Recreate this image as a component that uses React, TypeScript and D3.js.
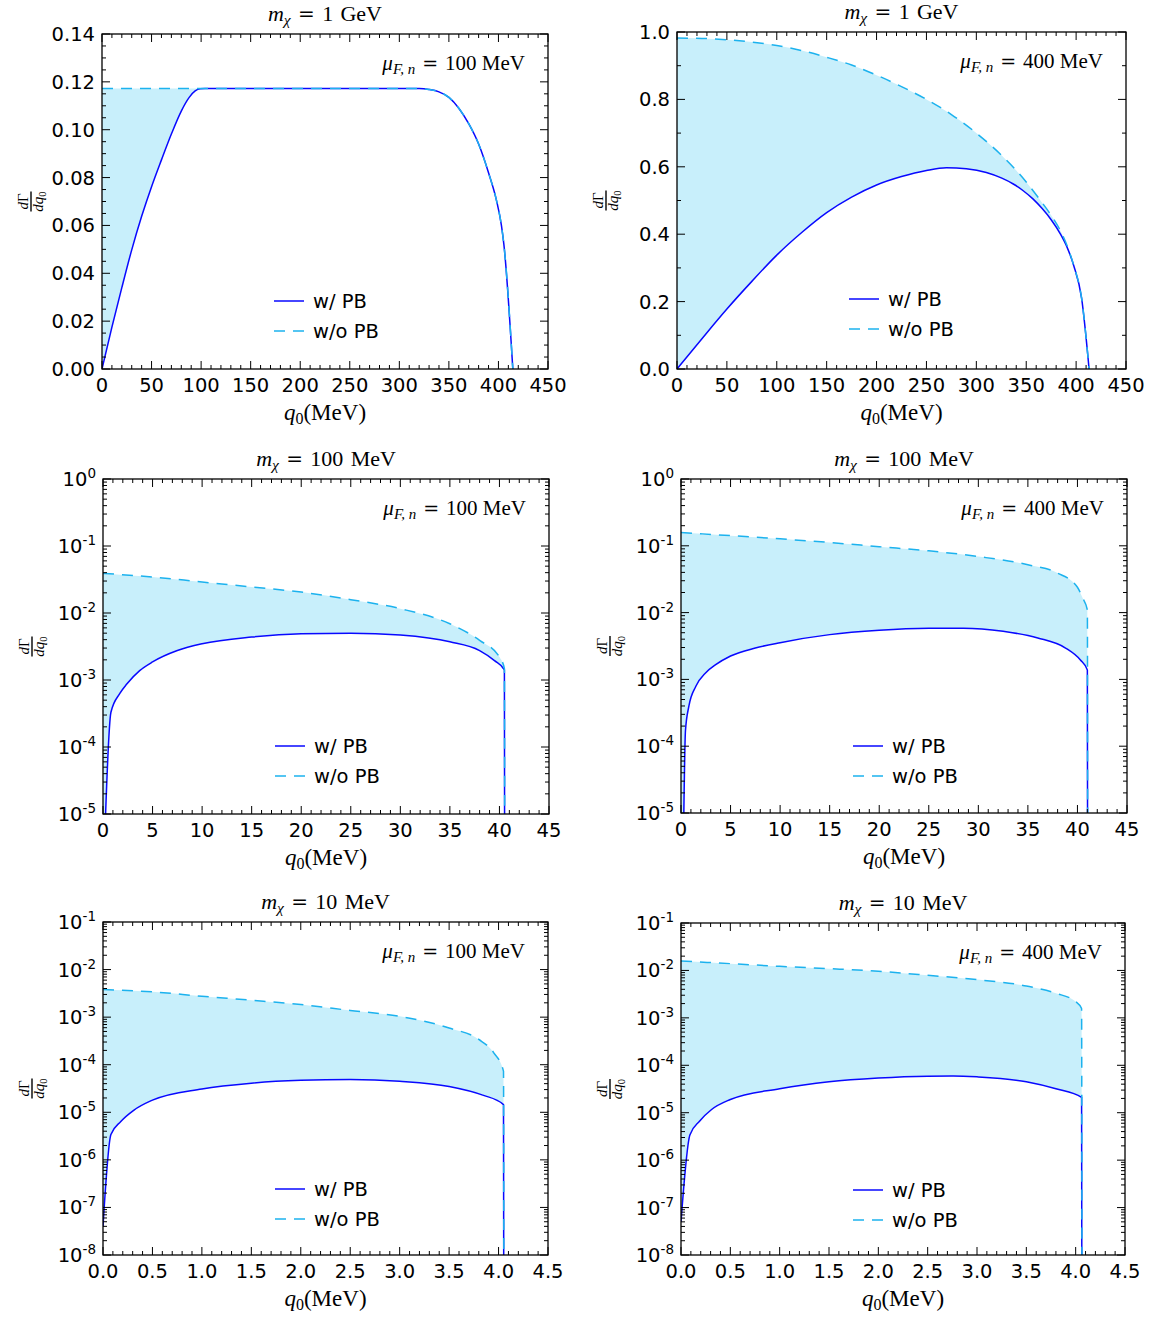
import React from 'react';
import * as d3 from 'd3';

type Pt = [number, number];

// ---------------- data ----------------
const massTitles = ['1 GeV', '1 GeV', '100 MeV', '100 MeV', '10 MeV', '10 MeV'];
const fermiTitles = ['100 MeV', '400 MeV', '100 MeV', '400 MeV', '100 MeV', '400 MeV'];
const legendLabels = ['w/ PB', 'w/o PB'];

const xTicksRow1 = [0, 50, 100, 150, 200, 250, 300, 350, 400, 450];
const xTicksRow2 = [0, 5, 10, 15, 20, 25, 30, 35, 40, 45];
const xTicksRow3 = [0, 0.5, 1, 1.5, 2, 2.5, 3, 3.5, 4, 4.5];
const yTicksP1 = [0, 0.02, 0.04, 0.06, 0.08, 0.1, 0.12, 0.14];
const yTicksP2 = [0, 0.2, 0.4, 0.6, 0.8, 1.0];
const yExpRow2 = [0, -1, -2, -3, -4, -5];
const yExpRow3 = [-1, -2, -3, -4, -5, -6, -7, -8];

// m_chi = 1 GeV, mu = 100 MeV
const p1With: Pt[] = [
  [0, 0], [10, 0.0175], [20, 0.034], [30, 0.0498], [40, 0.0638], [50, 0.0762], [60, 0.0874],
  [70, 0.0982], [80, 0.1078], [88, 0.1135], [94, 0.1162], [99, 0.1171], [104, 0.1172],
  [320, 0.1172], [330, 0.1168], [340, 0.1158], [350, 0.1135], [360, 0.109], [370, 0.1025],
  [380, 0.094], [390, 0.082], [398, 0.0705], [403, 0.06], [405.5, 0.052], [414.5, 0],
];
const p1Without: Pt[] = [
  [0, 0.1172], [104, 0.1172], [320, 0.1172], [330, 0.1168], [340, 0.1158], [350, 0.1135],
  [360, 0.109], [370, 0.1025], [380, 0.094], [390, 0.082], [398, 0.0705], [403, 0.06],
  [405.5, 0.052], [414.5, 0],
];
// m_chi = 1 GeV, mu = 400 MeV
const p2With: Pt[] = [
  [0, 0], [25, 0.09], [50, 0.178], [75, 0.26], [100, 0.338], [125, 0.405], [150, 0.464],
  [175, 0.51], [200, 0.546], [225, 0.571], [250, 0.589], [270, 0.597], [290, 0.594],
  [310, 0.583], [325, 0.567], [337, 0.549], [347, 0.529], [357, 0.504], [366, 0.476],
  [375, 0.443], [384, 0.402], [391, 0.361], [397.5, 0.308], [405.5, 0.21], [413, 0],
];
const p2Without: Pt[] = [
  [0, 0.982], [25, 0.981], [50, 0.977], [75, 0.97], [100, 0.96], [125, 0.945], [150, 0.925],
  [175, 0.902], [200, 0.872], [225, 0.838], [250, 0.8], [275, 0.755], [300, 0.7], [325, 0.635],
  [350, 0.555], [365, 0.497], [375, 0.456], [384, 0.412], [391, 0.366], [397.5, 0.308],
  [405.5, 0.21], [413, 0],
];
// m_chi = 100 MeV, mu = 100 MeV
const p3With: Pt[] = [
  [0, 7e-7], [0.8, 3.3e-4], [1.7, 6.3e-4], [2.4, 8.7e-4], [3.7, 1.38e-3], [5, 1.86e-3],
  [7.5, 2.75e-3], [10, 3.47e-3], [15, 4.37e-3], [20, 4.9e-3], [25, 5.0e-3], [30, 4.68e-3],
  [35, 3.72e-3], [38, 2.75e-3], [39.5, 1.95e-3], [40.5, 1.42e-3], [40.55, 1e-9],
];
const p3Without: Pt[] = [
  [0, 0.039], [5, 0.0345], [10, 0.029], [15, 0.0245], [20, 0.0205], [25, 0.0158], [30, 0.0116],
  [35, 0.0069], [38, 0.0039], [40, 0.0022], [40.5, 0.00148], [40.55, 1e-9],
];
// m_chi = 100 MeV, mu = 400 MeV
const p4With: Pt[] = [
  [0, 1e-9], [0.2, 1e-6], [0.45, 1.7e-4], [0.8, 4.0e-4], [1.5, 7.9e-4], [2.5, 1.26e-3],
  [3.5, 1.66e-3], [5, 2.24e-3], [7.5, 2.95e-3], [10, 3.55e-3], [15, 4.68e-3], [20, 5.43e-3],
  [25, 5.82e-3], [28.5, 5.85e-3], [32.5, 5.25e-3], [36, 4.17e-3], [38.8, 2.95e-3],
  [40.3, 1.95e-3], [41, 1.38e-3], [41.05, 1e-9],
];
const p4Without: Pt[] = [
  [0, 0.158], [5, 0.142], [10, 0.127], [15, 0.112], [20, 0.097], [25, 0.084], [30, 0.069],
  [35, 0.052], [38, 0.039], [40, 0.024], [40.5, 0.0168], [41, 0.011], [41.05, 1e-9],
];
// m_chi = 10 MeV, mu = 100 MeV
const p5With: Pt[] = [
  [0, 4e-8], [0.08, 3.4e-6], [0.18, 6.4e-6], [0.31, 1.1e-5], [0.5, 1.8e-5], [1.0, 3.1e-5],
  [1.5, 4.1e-5], [2.0, 4.7e-5], [2.5, 4.9e-5], [3.0, 4.5e-5], [3.5, 3.5e-5], [3.84, 2.3e-5],
  [4.05, 1.45e-5], [4.055, 1e-12],
];
const p5Without: Pt[] = [
  [0, 3.8e-3], [0.5, 3.4e-3], [1.0, 2.75e-3], [1.5, 2.27e-3], [2.0, 1.84e-3], [2.5, 1.38e-3],
  [3.0, 1.04e-3], [3.5, 5.9e-4], [3.8, 3.4e-4], [3.95, 1.8e-4], [4.05, 7.3e-5], [4.055, 1e-12],
];
// m_chi = 10 MeV, mu = 400 MeV
const p6With: Pt[] = [
  [0, 5e-8], [0.09, 3.4e-6], [0.19, 6.7e-6], [0.31, 1.17e-5], [0.5, 1.9e-5], [1.0, 3.2e-5],
  [1.5, 4.5e-5], [2.0, 5.4e-5], [2.5, 5.9e-5], [2.76, 5.95e-5], [3.0, 5.7e-5], [3.5, 4.5e-5],
  [3.8, 3.2e-5], [4.06, 2.1e-5], [4.065, 1e-12],
];
const p6Without: Pt[] = [
  [0, 1.58e-2], [0.5, 1.39e-2], [1.0, 1.22e-2], [1.5, 1.09e-2], [2.0, 9.6e-3], [2.5, 7.9e-3],
  [3.0, 6.4e-3], [3.5, 4.7e-3], [3.8, 3.3e-3], [4.0, 2.2e-3], [4.06, 1.58e-3], [4.065, 1e-12],
];

// ---------------- layout / style ----------------
const W = 1153;
const H = 1317;
const LAYOUT = [
  { left: 102, right: 548, top: 34, bottom: 369 },
  { left: 677, right: 1126, top: 32, bottom: 369 },
  { left: 103, right: 549, top: 479, bottom: 814 },
  { left: 681, right: 1127, top: 479, bottom: 813 },
  { left: 103, right: 548, top: 922, bottom: 1255 },
  { left: 681, right: 1125, top: 923, bottom: 1255 },
];

const SOLID = '#0808ff';
const DASHED = '#1cb2ee';
const FILL = '#c8effb';
const SANS = 'DejaVu Sans, sans-serif';
const SERIF = 'Liberation Serif, Times New Roman, serif';
const EQ_FONT = 'DejaVu Serif, serif';
const SP = '\u2004';

interface PanelSpec {
  log: boolean;
  xTicks: number[];
  xMinor: number;
  xFmt: (v: number) => string;
  yTicks?: number[];
  yMinor?: number;
  yFmt?: (v: number) => string;
  yExp?: number[];
  withPB: Pt[];
  withoutPB: Pt[];
}

const fInt = d3.format('d');
const f1 = d3.format('.1f');
const f2 = d3.format('.2f');

const PANELS: PanelSpec[] = [
  { log: false, xTicks: xTicksRow1, xMinor: 10, xFmt: fInt, yTicks: yTicksP1, yMinor: 0.005, yFmt: f2, withPB: p1With, withoutPB: p1Without },
  { log: false, xTicks: xTicksRow1, xMinor: 10, xFmt: fInt, yTicks: yTicksP2, yMinor: 0.1, yFmt: f1, withPB: p2With, withoutPB: p2Without },
  { log: true, xTicks: xTicksRow2, xMinor: 1, xFmt: fInt, yExp: yExpRow2, withPB: p3With, withoutPB: p3Without },
  { log: true, xTicks: xTicksRow2, xMinor: 1, xFmt: fInt, yExp: yExpRow2, withPB: p4With, withoutPB: p4Without },
  { log: true, xTicks: xTicksRow3, xMinor: 0.1, xFmt: f1, yExp: yExpRow3, withPB: p5With, withoutPB: p5Without },
  { log: true, xTicks: xTicksRow3, xMinor: 0.1, xFmt: f1, yExp: yExpRow3, withPB: p6With, withoutPB: p6Without },
];

function minorRange(lo: number, hi: number, step: number, majors: number[]) {
  const n = Math.round((hi - lo) / step);
  const out: number[] = [];
  for (let k = 0; k <= n; k++) {
    const v = lo + k * step;
    if (!majors.some((m) => Math.abs(m - v) < step * 1e-3)) out.push(v);
  }
  return out;
}

function Panel({ i }: { i: number }) {
  const L = LAYOUT[i];
  const P = PANELS[i];
  const xDom: [number, number] = [P.xTicks[0], P.xTicks[P.xTicks.length - 1]];
  const x = d3.scaleLinear().domain(xDom).range([L.left, L.right]);
  let y: any;
  let yMajor: number[];
  let yMinorVals: number[];
  if (P.log) {
    const exps = P.yExp as number[];
    const maxE = d3.max(exps) as number;
    const minE = d3.min(exps) as number;
    y = d3.scaleLog().domain([Math.pow(10, minE), Math.pow(10, maxE)]).range([L.bottom, L.top]);
    yMajor = exps.map((e) => Math.pow(10, e));
    yMinorVals = [];
    for (let e = minE; e < maxE; e++) for (let m = 2; m <= 9; m++) yMinorVals.push(m * Math.pow(10, e));
  } else {
    const yt = P.yTicks as number[];
    y = d3.scaleLinear().domain([yt[0], yt[yt.length - 1]]).range([L.bottom, L.top]);
    yMajor = yt;
    yMinorVals = minorRange(yt[0], yt[yt.length - 1], P.yMinor as number, yt);
  }
  const xMinorVals = minorRange(xDom[0], xDom[1], P.xMinor, P.xTicks);

  const line = d3.line<Pt>().x((d) => x(d[0])).y((d) => y(d[1])).curve(d3.curveMonotoneX);
  const areaUnder = d3.area<Pt>().x((d) => x(d[0])).y0(L.bottom).y1((d) => y(d[1])).curve(d3.curveMonotoneX);
  const areaAbove = d3.area<Pt>().x((d) => x(d[0])).y0(L.top - 5).y1((d) => y(d[1])).curve(d3.curveMonotoneX);

  const cx = (L.left + L.right) / 2;
  const cy = (L.top + L.bottom) / 2;
  const MAJ = 8;
  const MIN = 4;
  const tickColor = '#000';

  const ticks: React.ReactNode[] = [];
  const addX = (v: number, len: number, key: string) => {
    const px = x(v);
    ticks.push(<line key={key + 'b'} x1={px} x2={px} y1={L.bottom} y2={L.bottom - len} stroke={tickColor} strokeWidth={1} />);
    ticks.push(<line key={key + 't'} x1={px} x2={px} y1={L.top} y2={L.top + len} stroke={tickColor} strokeWidth={1} />);
  };
  const addY = (v: number, len: number, key: string) => {
    const py = y(v);
    ticks.push(<line key={key + 'l'} x1={L.left} x2={L.left + len} y1={py} y2={py} stroke={tickColor} strokeWidth={1} />);
    ticks.push(<line key={key + 'r'} x1={L.right} x2={L.right - len} y1={py} y2={py} stroke={tickColor} strokeWidth={1} />);
  };
  P.xTicks.forEach((v, k) => addX(v, MAJ, 'xM' + k));
  xMinorVals.forEach((v, k) => addX(v, MIN, 'xm' + k));
  yMajor.forEach((v, k) => addY(v, MAJ, 'yM' + k));
  yMinorVals.forEach((v, k) => addY(v, MIN, 'ym' + k));

  const legY = [L.top + 267, L.top + 297];
  const legX0 = L.left + 172;
  const legX1 = L.left + 202;
  const [mNum, mUnit] = massTitles[i].split(' ');
  const [fNum, fUnit] = fermiTitles[i].split(' ');

  return (
    <g>
      <defs>
        <clipPath id={`plot-${i}`}>
          <rect x={L.left} y={L.top} width={L.right - L.left} height={L.bottom - L.top} />
        </clipPath>
        <clipPath id={`above-${i}`}>
          <path d={areaAbove(P.withPB) || ''} />
        </clipPath>
      </defs>
      <g clipPath={`url(#plot-${i})`}>
        <path d={areaUnder(P.withoutPB) || ''} fill={FILL} stroke="none" clipPath={`url(#above-${i})`} />
        <path d={line(P.withPB) || ''} fill="none" stroke={SOLID} strokeWidth={1.5} />
        <path d={line(P.withoutPB) || ''} fill="none" stroke={DASHED} strokeWidth={1.5} strokeDasharray="11,8" />
      </g>
      {ticks}
      <rect x={L.left} y={L.top} width={L.right - L.left} height={L.bottom - L.top} fill="none" stroke="#000" strokeWidth={1.3} />

      {/* x tick labels */}
      {P.xTicks.map((v, k) => (
        <text key={'xl' + k} x={x(v)} y={L.bottom + 23} textAnchor="middle" fontFamily={SANS} fontSize={19.5} fill="#000">
          {P.xFmt(v)}
        </text>
      ))}
      {/* y tick labels */}
      {P.log
        ? (P.yExp as number[]).map((e, k) => (
            <text key={'yl' + k} x={L.left - 7} y={y(Math.pow(10, e)) + 7} textAnchor="end" fontFamily={SANS} fontSize={19.5} fill="#000">
              10<tspan dy={-8} fontSize={13.5}>{e === 0 ? '0' : '-' + Math.abs(e)}</tspan>
            </text>
          ))
        : yMajor.map((v, k) => (
            <text key={'yl' + k} x={L.left - 7} y={y(v) + 7} textAnchor="end" fontFamily={SANS} fontSize={19.5} fill="#000">
              {(P.yFmt as any)(v)}
            </text>
          ))}

      {/* title */}
      <text x={cx} y={L.top - 13} textAnchor="middle" fontFamily={SERIF} fontSize={22} fill="#000">
        <tspan fontStyle="italic">m</tspan>
        <tspan fontStyle="italic" fontSize={15.5} dy={4}>χ</tspan>
        <tspan dy={-4}>{SP}</tspan>
        <tspan fontFamily={EQ_FONT} fontSize={20}>=</tspan>
        <tspan>{SP + mNum + SP + mUnit}</tspan>
      </text>

      {/* mu annotation */}
      <text x={L.right - 23} y={L.top + 36} textAnchor="end" fontFamily={SERIF} fontSize={21} fill="#000">
        <tspan fontStyle="italic">μ</tspan>
        <tspan fontStyle="italic" fontSize={15} dy={4}>F, n</tspan>
        <tspan dy={-4}>{SP}</tspan>
        <tspan fontFamily={EQ_FONT} fontSize={19}>=</tspan>
        <tspan>{SP + fNum + ' ' + fUnit}</tspan>
      </text>

      {/* x label */}
      <text x={cx} y={L.bottom + 51} textAnchor="middle" fontFamily={SERIF} fontSize={23} fill="#000">
        <tspan fontStyle="italic">q</tspan>
        <tspan fontSize={16} dy={4}>0</tspan>
        <tspan dy={-4}>(MeV)</tspan>
      </text>

      {/* y label: fraction dΓ / dq0 */}
      <g transform={`translate(${L.left - 71},${cy}) rotate(-90)`}>
        <text x={0} y={-3.5} textAnchor="middle" fontFamily={SERIF} fontSize={15} fill="#000">
          <tspan fontStyle="italic">d</tspan>Γ
        </text>
        <line x1={-10} x2={10} y1={0} y2={0} stroke="#000" strokeWidth={1.4} />
        <text x={0} y={12} textAnchor="middle" fontFamily={SERIF} fontSize={15} fill="#000">
          <tspan fontStyle="italic">dq</tspan>
          <tspan fontSize={10.5} dy={3}>0</tspan>
        </text>
      </g>

      {/* legend */}
      <line x1={legX0} x2={legX1} y1={legY[0]} y2={legY[0]} stroke={SOLID} strokeWidth={1.5} />
      <line x1={legX0} x2={legX1} y1={legY[1]} y2={legY[1]} stroke={DASHED} strokeWidth={1.5} strokeDasharray="11,8" />
      {legendLabels.map((t, k) => (
        <text key={'lg' + k} x={L.left + 211} y={legY[k] + 7} fontFamily={SANS} fontSize={19.5} fill="#000">
          {t}
        </text>
      ))}
    </g>
  );
}

export default function App() {
  return (
    <svg width={W} height={H} viewBox={`0 0 ${W} ${H}`} style={{ position: 'absolute', left: 0, top: 0, background: '#fff' }}>
      <rect x={0} y={0} width={W} height={H} fill="#fff" />
      {PANELS.map((_, i) => (
        <Panel key={i} i={i} />
      ))}
    </svg>
  );
}
